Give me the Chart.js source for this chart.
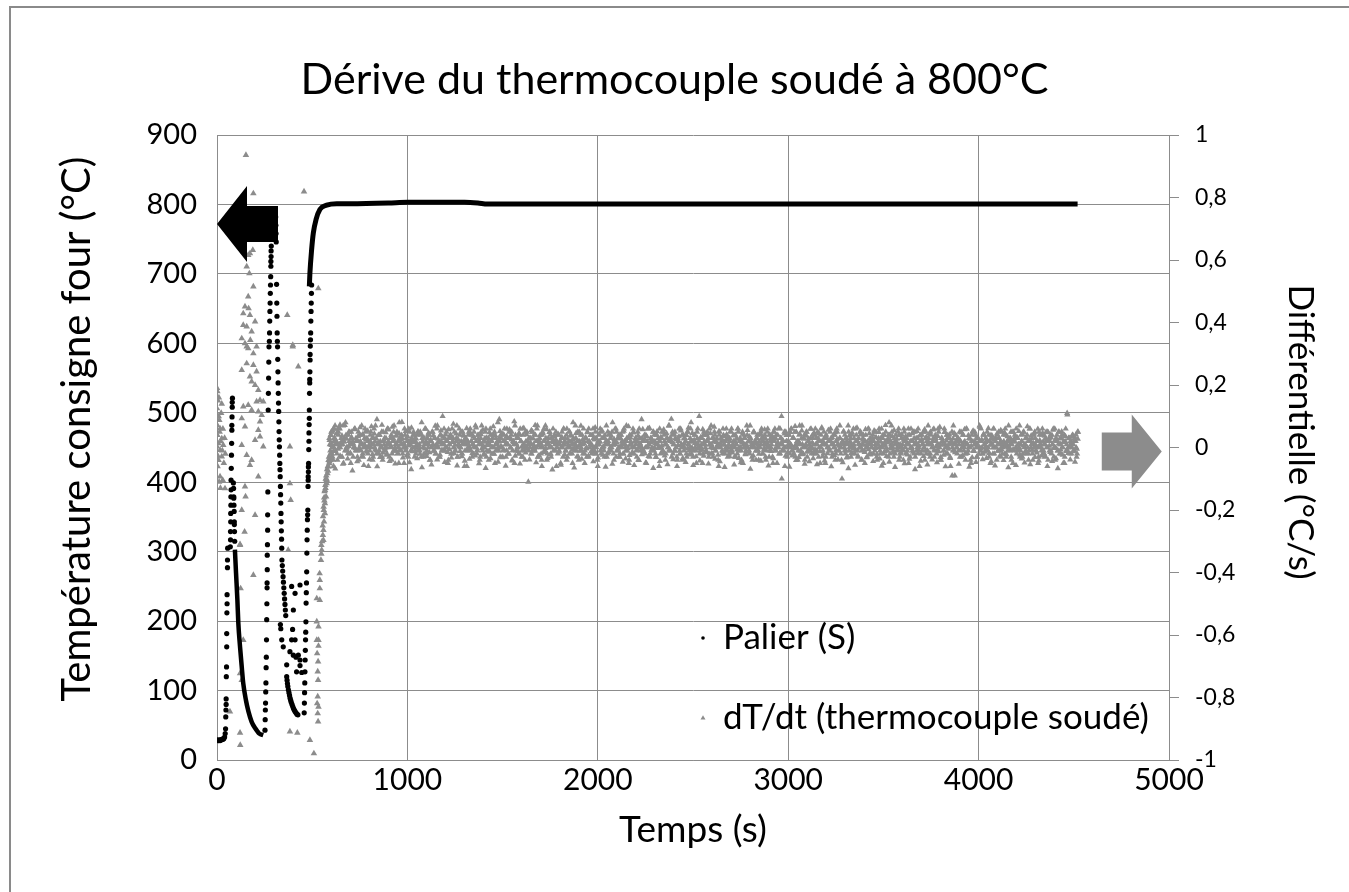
<!DOCTYPE html>
<html>
<head>
<meta charset="utf-8">
<script src="https://cdn.jsdelivr.net/npm/chart.js@4.4.1/dist/chart.umd.min.js"></script>
<style>
html, body { margin: 0; padding: 0; background: #fff; overflow: hidden; }
#wrap { position: relative; width: 1349px; height: 892px; }
#frame { position: absolute; left: 9px; top: 6px; width: 1400px; height: 1000px; border: 2px solid #8a8a8a; box-sizing: border-box; pointer-events: none; }
</style>
</head>
<body>
<div id="wrap">
  <canvas id="chart" width="1349" height="892"></canvas>
  <div id="frame"></div>
</div>
<script>
// Palier (S) : scattered readings during the heat-up, [time s, temperature °C]
const palierEarly = [
  [0,29],[4,28],[8,28],[12,29],[16,28],[20,29],[24,29],[28,30],[32,30],[36,31],[40,33],[43,38],
  [45,45],[46,62],[47,72],[48,80],[48,88],[49,120],[50,134],[51,163],[51,182],[52,212],[53,225],[53,238],[55,277],[55,288],[56,305],
  [70,307],[71,317],[71,329],[72,343],[72,355],[73,367],[73,379],[74,389],[74,403],[75,420],[76,439],[77,456],[78,475],[78,482],[79,494],[80,508],[80,515],[81,521],
  [86,399],[87,391],[88,379],[88,377],[89,367],[90,358],[91,343],[91,339],[92,329],[93,315],
  [252,43],[253,58],[254,72],[255,82],[256,98],[257,111],[258,133],[259,148],[260,173],[261,202],[262,225],[263,248],[263,255],[264,274],[264,295],[265,310],[266,331],[266,353],[267,386],
  [269,504],[270,528],[271,550],[272,573],[273,595],[275,603],[276,615],[277,632],[278,646],[279,658],[280,672],[281,684],[282,696],[283,711],[283,718],[284,725],[284,733],[285,740],[286,760],[287,775],[288,788],
  [308,782],[309,770],[310,758],[311,746],[313,685],[314,658],[315,639],[316,615],[317,603],[318,595],[319,577],[320,559],[321,543],[322,528],[323,514],[324,502],[325,487],[326,473],
  [327,461],[328,451],[329,439],[330,427],[331,418],[332,408],[333,394],[334,382],[335,370],[336,355],[337,343],[338,330],[339,318],[340,305],
  [341,288],[343,280],[345,272],[347,264],[349,256],[351,248],[353,240],[355,232],[357,224],[359,216],[361,208],
  [333,195],[335,189],[340,173],[348,163],
  [366,120],[368,115],[370,110],[372,106],[375,101],[378,97],[381,93],[384,89],[387,86],[390,83],[394,80],[398,77],[402,74],[406,72],[410,70],[415,68],[420,66],[425,65],
  [392,250],[410,240],[401,216],[397,188],[410,173],[383,156],[401,151],[415,148],[427,151],[436,144],[436,136],[445,126],[418,127],[366,137],[392,173],[436,252],
  [458,68],[459,82],[460,97],[461,111],[462,127],[463,144],[464,158],[465,173],[466,184],[467,199],[468,226],[469,241],[470,255],[471,271],[472,298],[473,317],[474,331],[475,346],
  [476,353],[477,360],[478,394],[479,403],[479,408],[480,415],[480,422],[481,427],[482,447],[483,459],[483,471],[484,483],[485,492],[485,504],[486,528],[487,543],[487,548],
  [488,559],[489,576],[489,584],[490,596],[491,605],[492,615],[493,632],[494,646],[495,658],[496,672],[497,684]
];
// dense stretches of the same series (drawn as a thick trace)
const palierCooling = [[94,303],[100,269],[107,231],[112,197],[121,163],[130,134],[138,110],[152,86],[165,70],[182,55],[200,46],[222,38],[243,36]];
const palierPlateau = [[485,682],[488,701],[497,735],[506,759],[520,778],[541,793],[576,799],[629,801],[700,801],[900,802],[1000,803],[1300,803],[1370,802],[1420,800.5],[4520,800.5]];

// dT/dt (thermocouple soudé) before the plateau, [time s, °C/s]
const dtEarly = [
  [2,0.18],[25,0.14],[0,0.125],[12,0.088],[1,0.072],[16,0.061],[2,0.04],[25,0.029],[7,0.013],[0,0.003],[16,-0.008],[33,0.008],[2,-0.024],[25,-0.029],[16,-0.093],[30,-0.104],[42,-0.131],
  [0,0.19],[10,0.16],[5,0.15],[9,0.1],[14,0.05],[20,0.02],[28,-0.01],[36,-0.05],[3,-0.06],[11,-0.11],[40,0.03],[22,0.11],[44,-0.02],[31,0.06],[8,-0.04],[18,-0.13],
  [147,0.333],[164,0.317],[191,0.301],[130,0.248],[156,0.269],[191,0.264],[208,0.243],[173,0.227],[182,0.211],[200,0.2],[217,0.184],[208,0.147],[226,0.152],[243,0.147],
  [138,0.131],[164,0.136],[182,0.12],[217,0.115],[235,0.104],[130,0.093],[226,0.083],[147,0.067],[217,0.056],[226,0.035],[200,0.024],[243,0.003],[156,-0.024],[182,-0.04],
  [173,-0.056],[217,-0.093],[130,0.008],[383,0.003],[427,0.259],[398,0.328],[147,-0.125],[150,-0.157],[130,-0.2],[200,-0.216],[145,-0.27],[121,-0.31],[383,-0.115],[387,-0.168],
  [152,0.936],[191,0.813],[457,0.819],[188,0.632],[173,0.621],[164,0.616],[156,0.579],[170,0.557],[191,0.515],[164,0.483],[147,0.451],[166,0.445],[138,0.429],[173,0.424],
  [200,0.403],[138,0.392],[156,0.387],[182,0.371],[130,0.349],[175,0.344],[156,0.323],[208,0.323],[369,0.424],[398,0.323],[532,0.509],
  [121,-0.312],[191,-0.408],[124,-0.451],[138,-0.616],[121,-0.723],[130,-0.744],[68,-0.845],[121,-0.913],[122,-0.952],[383,-0.909],[422,-0.913],[488,-0.936],[509,-0.979],[374,-0.328],
  [548,-0.312],[548,-0.34],[546,-0.36],[539,-0.403],[540,-0.424],[540,-0.451],[524,-0.483],[540,-0.488],[524,-0.557],[533,-0.573],[524,-0.616],[533,-0.616],[533,-0.635],
  [526,-0.659],[531,-0.685],[529,-0.717],[531,-0.744],[529,-0.797],[526,-0.819],[533,-0.83],[529,-0.851],[531,-0.877],
  [550,-0.328],[559,-0.296],[559,-0.264],[562,-0.237],[567,-0.211],[567,-0.179],[573,-0.157],[567,-0.136],[576,-0.115],[576,-0.104],[580,-0.083],[585,-0.061],[590,-0.051],
  [594,-0.035],[602,-0.019],[611,0.003],[620,0.024],[629,0.045],[637,0.061],[646,0.072],
  [552,-0.3],[555,-0.25],[557,-0.22],[560,-0.19],[563,-0.16],[565,-0.14],[569,-0.12],[571,-0.1],[574,-0.09],[578,-0.07],[582,-0.06],[586,-0.04],[588,-0.03],
  [556,-0.28],[561,-0.2],[564,-0.17],[570,-0.13],[575,-0.1],[583,-0.075],[591,-0.045],[596,-0.02],[600,0.01],[606,-0.03],[598,0.04],[605,0.05],[612,-0.06],[615,0.06]
];

// dT/dt on the plateau
// series A and B in hundredths of °C/s, one reading every 5 s from 590 s and from 592.5 s
// series C in thousandths of °C/s, one reading every 5 s from 591.25 s
const bandStart = 590;
const bandStep = 5;
const dtBandCentiA = [
  3,-1,5,0,-4,2,7,1,-2,4,0,6,-3,2,1,-5,3,8,0,-1,4,2,-2,5,1,-3,0,6,3,-1,
  2,-4,4,1,7,-2,0,3,5,-1,2,-6,1,4,0,3,-3,6,2,-1,9,1,-2,4,0,5,-4,2,3,-1,
  0,6,2,-3,1,4,-2,3,7,0,-1,5,2,-5,3,1,4,-2,0,6,-1,3,2,-3,5,1,-7,2,4,0,
  3,-2,1,5,0,-1,4,8,2,-3,1,6,-2,3,0,4,-4,2,5,1,-1,3,-2,6,0,2,-3,4,1,10,
  -1,3,0,5,2,-4,1,4,-2,6,3,0,-1,2,7,-3,1,4,0,-2,5,2,-6,3,1,-1,4,0,6,2,
  -3,1,5,0,2,-2,4,1,-4,3,7,-1,2,0,5,-3,1,3,-1,6,2,-2,4,0,-5,3,1,8,-1,2,
  4,0,-3,2,6,1,-1,3,-2,5,0,4,-4,2,1,7,-1,3,0,-2,4,2,-3,6,1,-1,5,0,2,-11,
  3,1,-2,5,0,4,-1,2,6,-3,1,3,0,-4,5,2,-1,7,1,-2,3,0,4,-3,2,6,-1,1,5,0,
  -2,4,1,-5,3,0,6,2,-1,4,-3,1,5,0,2,-2,8,1,-1,3,0,5,-4,2,4,-1,1,6,-2,3,
  0,5,-3,2,1,4,-1,6,0,-2,3,1,-6,4,2,-1,5,0,3,-3,1,7,-2,2,4,0,-1,5,1,-4,
  2,6,-1,3,0,-3,4,1,5,-2,2,0,7,-1,3,-4,1,4,0,6,-2,2,1,-3,5,0,3,-1,9,2,
  -1,4,0,-5,2,6,1,-2,3,0,5,-1,2,-3,4,1,0,6,-2,3,-1,5,2,-4,1,3,0,7,-1,2,
  4,-2,1,5,0,-3,3,2,-1,6,1,-4,4,0,2,-2,5,1,-1,3,8,0,-3,2,4,-1,1,6,0,-2,
  3,1,-5,4,2,0,-1,5,3,-2,1,7,0,-3,2,4,-1,3,1,-6,5,0,2,-2,4,1,-1,6,3,0,
  -2,2,5,-1,1,4,0,-3,3,6,-1,2,0,-4,5,1,3,-2,0,4,2,-1,7,0,-3,1,5,2,-1,3,
  0,-4,4,1,6,-2,2,0,3,-1,5,1,-3,4,0,2,-5,3,6,-1,1,4,0,-2,3,10,1,-1,5,0,
  2,-3,1,4,0,6,-1,3,-2,5,1,0,-4,2,7,-1,3,1,-2,4,0,5,-3,2,1,-1,6,0,3,-2,
  4,1,-1,5,-3,2,0,6,1,-2,3,-5,4,0,2,-1,5,3,-3,1,0,4,-2,6,1,-1,3,0,-4,2,
  5,0,-2,3,1,7,-1,2,-3,4,0,1,-2,6,2,-1,3,0,5,-4,1,4,-1,2,0,-3,6,1,3,-2,
  0,4,2,-1,5,-3,1,3,0,-2,6,1,-5,4,2,0,-1,3,8,-2,1,5,0,-3,2,4,-1,1,6,0,
  -2,3,1,-4,5,0,2,-1,4,1,-3,6,0,2,-2,5,1,-1,3,0,-6,4,2,-1,5,0,3,-2,1,7,
  1,-3,4,0,2,6,-1,3,-2,1,5,0,-4,3,2,-1,6,1,-2,4,0,3,-3,2,5,-1,1,-9,4,0,
  3,-1,5,2,-3,1,4,0,-2,6,1,-1,3,0,-5,4,2,-1,5,1,-3,3,0,7,-1,2,-2,4,1,0,
  -1,5,0,-3,2,4,1,-2,6,0,3,-4,1,5,-1,2,0,-2,4,1,6,-3,2,0,3,-1,5,1,-5,2,
  4,0,-2,3,1,7,-1,2,-3,5,0,1,-2,4,2,-1,6,0,3,-4,1,5,-1,2,0,-3,4,1,-1,6,
  2,-2,1,5,0,-4,3,2,-1,4,1,-3,6,0,2,-1,5,-2,1,3,0,-5,4,2,-1,11,0,3,-2,1,
  0,4,-1,3,2,-3,5
];
const dtBandCentiB = [
  1,4,-2,0,6,3,-1,2,-4,5,1,0,3,-3,7,2,-1,4,0,-2,5,1,-5,3,2,0,6,-1,2,-3,
  5,0,2,-1,4,-3,1,6,0,3,-2,2,-1,5,1,-4,3,0,7,-2,1,4,-1,2,0,-3,5,1,-1,3,
  -2,6,1,0,3,-4,2,5,-1,1,4,-2,0,8,2,-1,3,1,-5,4,0,2,-2,6,1,-1,3,0,5,-3,
  2,0,4,-1,1,5,-3,3,0,-2,6,2,-1,4,1,-4,2,0,5,-1,3,-2,1,7,0,-3,4,2,-1,1,
  6,-1,2,0,-5,3,1,4,-2,2,0,5,-1,3,-3,1,6,0,2,-2,4,1,-1,3,-6,2,5,0,-1,4,
  1,-2,3,7,0,-1,4,2,-3,5,1,0,-2,3,6,-1,2,-4,1,4,0,3,-2,5,1,-1,2,0,9,-3,
  3,0,-1,4,2,-3,6,1,-2,3,0,5,-1,2,-5,4,1,0,3,-2,6,2,-1,4,0,-4,2,5,1,-1,
  0,3,-2,5,1,-1,4,0,7,-3,2,1,-2,4,0,6,-1,3,-4,2,1,5,-2,0,3,-1,4,2,-6,1,
  4,-1,2,0,5,-3,1,3,-1,6,0,2,-2,4,1,-5,3,0,7,-1,2,-3,5,1,0,4,-2,2,-1,3,
  -3,2,6,0,1,-2,4,3,-1,5,0,-4,2,1,6,-2,3,0,-1,4,2,-3,5,1,-1,3,0,8,-2,2,
  1,5,-1,3,-3,0,4,2,-2,6,1,-1,3,0,-5,4,2,1,-2,5,0,3,-1,2,-4,6,1,0,3,-1,
  2,-2,4,0,6,1,-3,3,2,-1,5,0,-2,4,1,3,-6,2,0,5,-1,4,1,-2,3,0,7,-1,2,-3,
  5,1,-1,3,0,-4,2,6,-2,1,4,0,-1,3,2,-3,5,1,0,6,-2,2,-1,4,0,-5,3,1,10,-1,
  0,3,-2,5,1,-1,4,2,-3,6,0,1,-2,3,5,-1,2,0,-4,4,1,3,-1,6,2,-2,0,4,-3,1,
  3,-1,6,0,2,-3,4,1,-2,5,0,3,-1,2,-5,4,1,-1,7,0,2,-2,3,1,-4,5,0,2,-1,4,
  -1,2,0,5,3,-2,1,4,-4,2,6,0,-1,3,1,-3,5,2,-1,4,0,1,-2,6,3,-1,2,0,-6,5,
  2,0,4,-2,1,6,-1,3,0,-3,5,2,-1,4,1,-2,7,0,3,-4,1,5,-1,2,0,3,-2,4,1,-1,
  6,-2,1,3,0,-5,4,2,-1,5,1,-3,3,0,2,-1,6,1,-2,4,0,-4,2,5,1,-1,3,0,-10,2,
  1,4,-1,2,-3,5,0,3,1,-2,6,0,-1,4,2,-3,1,5,0,-1,3,2,-5,4,1,0,6,-2,2,0,
  3,-2,5,1,0,-4,2,6,-1,3,0,4,-2,1,5,-1,2,-3,4,0,7,1,-1,3,-2,2,0,5,-4,1,
  4,0,-1,6,2,-2,3,1,-5,4,0,2,-1,5,1,-3,3,0,6,-1,2,-2,4,1,0,-4,5,2,-1,3,
  -2,5,1,0,3,-3,4,2,-1,6,0,1,-4,3,2,-1,5,0,4,-2,1,3,-6,2,0,7,-1,4,1,-2,
  2,1,-3,5,0,4,-1,2,-2,6,1,0,3,-4,2,5,-1,1,4,0,-3,3,2,-1,6,0,-2,4,1,3,
  0,-1,4,2,-5,3,1,6,-2,2,0,4,-1,3,1,-3,5,0,2,-2,4,1,-1,7,0,3,-4,2,5,-1,
  3,6,-1,1,0,-3,4,2,-2,5,1,-1,3,0,-4,6,2,1,-2,4,0,3,-1,2,-5,5,1,0,4,-2,
  1,-3,3,0,5,2,-1,4,-2,1,6,0,-4,3,2,-1,5,1,-2,4,0,2,-3,6,1,-1,3,0,2,-2,
  4,1,-1,3,0,-2,5
];
const dtBandMilliC = [
  23,-41,7,55,-12,31,-68,14,46,-5,62,-27,9,38,-53,18,71,-9,27,-36,4,49,-18,33,-74,12,58,-3,21,-45,
  36,-8,64,15,-29,42,-57,8,25,-14,53,1,-38,19,67,-22,11,44,-6,29,-61,16,39,-31,5,72,-17,24,-2,48,
  -24,13,57,-44,30,2,66,-11,20,-52,37,9,-19,45,-7,26,81,-33,14,-1,52,-26,35,6,-48,22,63,-13,17,40,
  -9,28,-35,51,3,-21,43,-64,18,32,-4,59,-28,11,47,-16,24,-55,6,38,-11,69,1,-39,27,15,-23,54,-8,34,
  12,-47,41,22,-15,58,-6,30,-33,17,75,-19,8,44,-58,26,3,-12,50,-29,14,37,-43,21,61,-2,10,-37,46,19,
  -18,35,4,-26,63,-9,27,-51,13,42,-3,56,-24,18,-66,31,7,-14,48,-35,23,1,67,-21,39,-8,15,-46,29,52,
  5,-32,44,-7,21,-59,36,10,-20,57,-1,25,-42,16,83,-27,12,34,-13,46,-52,19,3,-30,62,8,-17,41,-5,27,
  -39,16,55,-10,28,-3,71,-48,22,6,-25,39,13,-60,45,-15,20,-2,58,-34,11,49,-22,30,-71,17,36,-9,24,0,
  43,-14,19,-56,33,8,60,-23,15,-40,28,2,51,-18,37,-6,24,-65,12,46,-29,20,5,-11,69,-37,26,14,-50,31,
  -4,48,-27,17,39,-12,6,-45,25,64,-20,9,-33,42,18,-8,55,-24,3,30,-62,21,13,-16,44,-1,37,-53,8,26,
  60,-30,15,-5,41,-19,28,2,-46,53,11,-36,20,-3,67,-25,32,8,-15,47,-57,18,29,-7,38,-41,14,5,-22,58,
  -12,27,-49,36,4,-28,62,17,-9,24,-66,40,13,-31,51,-2,19,-44,33,6,-17,57,-26,10,45,-54,22,-6,31,91,
  16,-38,42,-11,25,-60,7,35,-20,54,1,-34,28,12,-47,39,-4,63,-23,18,-8,46,-57,24,14,-29,50,-3,21,-42,
  33,-6,58,-27,11,40,-15,23,-52,9,45,-19,30,-2,66,-37,17,4,-24,52,-45,27,8,-13,36,-63,20,41,-10,25,
  -28,51,3,-17,38,-55,21,12,-7,60,-34,26,-48,15,43,-1,31,-22,9,55,-14,35,-69,18,2,-26,47,13,-40,29,
  8,-21,46,-43,19,33,-8,57,-30,14,2,-58,41,22,-12,36,-35,50,-4,27,-50,16,61,-18,10,-100,24,-9,44,-27,
  39,-16,21,-62,49,7,-26,32,-3,68,-41,19,11,-31,43,-10,54,-22,27,-53,6,37,-14,28,-45,59,-2,15,-35,47,
  -7,30,-54,20,45,-13,1,64,-29,17,-42,36,9,-19,56,-4,23,-61,32,12,-25,48,-9,26,-38,5,70,-20,14,-48,
  52,-10,28,-33,16,-67,38,4,-18,47,-5,29,-56,21,63,-27,13,-1,42,-39,24,8,-15,58,-32,19,-6,45,-23,11,
  26,-44,54,-2,33,-21,9,49,-36,18,-59,30,6,-12,71,-28,15,40,-46,23,-4,36,-17,55,-63,14,27,-8,39,-30,
  -15,41,-6,24,-51,35,11,-23,60,-37,20,-3,45,-14,29,-70,17,52,-19,6,38,-43,25,12,-28,57,-10,33,-55,19,
  44,-20,14,-39,57,-8,27,3,-48,36,-13,65,-31,18,8,-24,49,-61,22,30,-5,41,-34,13,-90,28,46,-16,20,-1,
  31,-53,24,-9,47,-26,15,58,-40,10,-18,39,-62,27,5,-32,53,-12,20,-47,34,9,-21,66,-3,25,-38,43,-14,17,
  -34,22,61,-18,8,-45,37,-1,26,-58,19,44,-11,31,-27,55,-7,14,-41,48,3,-22,35,-64,21,12,-30,50,-6,28,
  18,-57,33,-4,52,-23,10,-36,42,6,-49,29,-13,67,-20,24,-54,38,-8,15,44,-31,7,-17,59,-42,23,1,-26,46,
  -10,37,-29,20,-60,48,5,-15,31,-44,56,-2,23,-35,40,-67,13,28,-7,51,-24,17,-50,36,-12,105,-18,29,-39,16,
  34,-13,22,-46,41,-5,27
];

const xMax = 5000;
const leftMax = 900;
const rightMin = -1, rightMax = 1;

const FONT = 'Lato, "Open Sans", sans-serif';
const INK = '#000';
const GRID = '#8c8c8c';
const GREY = '#8c8c8c';

const pts = arr => arr.map(p => ({x: p[0], y: p[1]}));
const bandSeries = (vals, t0, unit) => vals.map((v, i) => ({x: t0 + i * bandStep, y: v * unit}));
const bandPts = bandSeries(dtBandCentiA, bandStart, 0.01)
  .concat(bandSeries(dtBandCentiB, bandStart + 2.5, 0.01))
  .concat(bandSeries(dtBandMilliC, bandStart + 1.25, 0.001));

function arrow(ctx, tipX, tipY, dir, headLen, headHalf, shaftLen, shaftHalf, color) {
  const baseX = tipX - dir * headLen;
  const endX = baseX - dir * shaftLen;
  ctx.beginPath();
  ctx.moveTo(tipX, tipY);
  ctx.lineTo(baseX, tipY - headHalf);
  ctx.lineTo(baseX, tipY - shaftHalf);
  ctx.lineTo(endX, tipY - shaftHalf);
  ctx.lineTo(endX, tipY + shaftHalf);
  ctx.lineTo(baseX, tipY + shaftHalf);
  ctx.lineTo(baseX, tipY + headHalf);
  ctx.closePath();
  ctx.fillStyle = color;
  ctx.fill();
}

// arrows, legend and the two vertical axis titles
const overlay = {
  id: 'overlay',
  afterDatasetsDraw(chart) {
    const {ctx, scales: {x, y, y2}} = chart;
    ctx.save();
    arrow(ctx, x.getPixelForValue(0), y.getPixelForValue(772), -1, 30, 38, 31, 18, INK);
    arrow(ctx, x.getPixelForValue(4962), y2.getPixelForValue(-0.013), 1, 30, 37, 30, 19, GREY);
    ctx.restore();
  },
  afterDraw(chart) {
    const {ctx, chartArea: a} = chart;
    ctx.save();
    ctx.fillStyle = INK;
    ctx.textBaseline = 'middle';
    ctx.textAlign = 'left';
    ctx.font = '35px ' + FONT;
    const lx = a.left + 486, ly1 = a.top + 503, ly2 = a.top + 583;
    ctx.beginPath();
    ctx.arc(lx, ly1, 1.8, 0, Math.PI * 2);
    ctx.fill();
    ctx.fillText('Palier (S)', lx + 20, ly1);
    ctx.fillStyle = GREY;
    ctx.beginPath();
    ctx.moveTo(lx, ly2 - 2.8);
    ctx.lineTo(lx + 2.5, ly2 + 1.4);
    ctx.lineTo(lx - 2.5, ly2 + 1.4);
    ctx.closePath();
    ctx.fill();
    ctx.fillStyle = INK;
    ctx.fillText('dT/dt (thermocouple soudé)', lx + 20, ly2);

    ctx.textAlign = 'center';
    ctx.save();
    ctx.font = '40px ' + FONT;
    ctx.translate(77, 429);
    ctx.rotate(-Math.PI / 2);
    ctx.fillText('Température consigne four (°C)', 0, 0);
    ctx.restore();
    ctx.save();
    ctx.font = '35px ' + FONT;
    ctx.translate(1300, 432);
    ctx.rotate(Math.PI / 2);
    ctx.fillText('Différentielle (°C/s)', 0, 0);
    ctx.restore();
    ctx.restore();
  }
};

new Chart(document.getElementById('chart'), {
  type: 'scatter',
  data: {
    datasets: [
      {label: 'Palier (S)', data: pts(palierEarly), yAxisID: 'y', pointStyle: 'circle', pointRadius: 2.6, backgroundColor: INK, borderWidth: 0},
      {label: 'Palier (S) refroidissement', data: pts(palierCooling), yAxisID: 'y', showLine: true, pointRadius: 0, borderColor: INK, borderWidth: 4.5, cubicInterpolationMode: 'monotone'},
      {label: 'Palier (S) plateau', data: pts(palierPlateau), yAxisID: 'y', showLine: true, pointRadius: 0, borderColor: INK, borderWidth: 5, cubicInterpolationMode: 'monotone'},
      {label: 'dT/dt (thermocouple soudé)', data: pts(dtEarly), yAxisID: 'y2', pointStyle: 'triangle', pointRadius: 3.8, backgroundColor: GREY, borderWidth: 0},
      {label: 'dT/dt plateau', data: bandPts, yAxisID: 'y2', pointStyle: 'triangle', pointRadius: 3.6, backgroundColor: GREY, borderWidth: 0}
    ]
  },
  options: {
    responsive: false,
    animation: false,
    events: [],
    layout: {padding: 0},
    plugins: {
      legend: {display: false},
      tooltip: {enabled: false},
      title: {
        display: true,
        text: 'Dérive du thermocouple soudé à 800°C',
        color: INK,
        font: {family: FONT, size: 43, weight: 'normal'},
        padding: {top: 54, bottom: 29.4}
      }
    },
    scales: {
      x: {
        type: 'linear', position: 'bottom', min: 0, max: xMax,
        ticks: {stepSize: 1000, color: INK, font: {family: FONT, size: 30}, padding: 2, callback: v => String(v)},
        grid: {color: GRID, drawTicks: false},
        border: {color: GRID},
        title: {display: true, text: 'Temps (s)', color: INK, font: {family: FONT, size: 37}, padding: {top: 0, bottom: 40}},
        afterFit: s => { s.height = 132; }
      },
      y: {
        position: 'left', min: 0, max: leftMax,
        ticks: {stepSize: 100, color: INK, font: {family: FONT, size: 29}, padding: 20, callback: v => String(v)},
        grid: {color: GRID, drawTicks: false},
        border: {color: GRID},
        afterFit: s => { s.width = 217; }
      },
      y2: {
        position: 'right', min: rightMin, max: rightMax,
        ticks: {
          stepSize: 0.2, color: INK, font: {family: FONT, size: 23}, padding: 16,
          callback: v => String(Math.round(v * 10) / 10).replace('.', ',')
        },
        grid: {drawOnChartArea: false, drawTicks: true, tickLength: 10, color: GRID},
        border: {color: GRID},
        afterFit: s => { s.width = 180; }
      }
    }
  },
  plugins: [overlay]
});
</script>
</body>
</html>
